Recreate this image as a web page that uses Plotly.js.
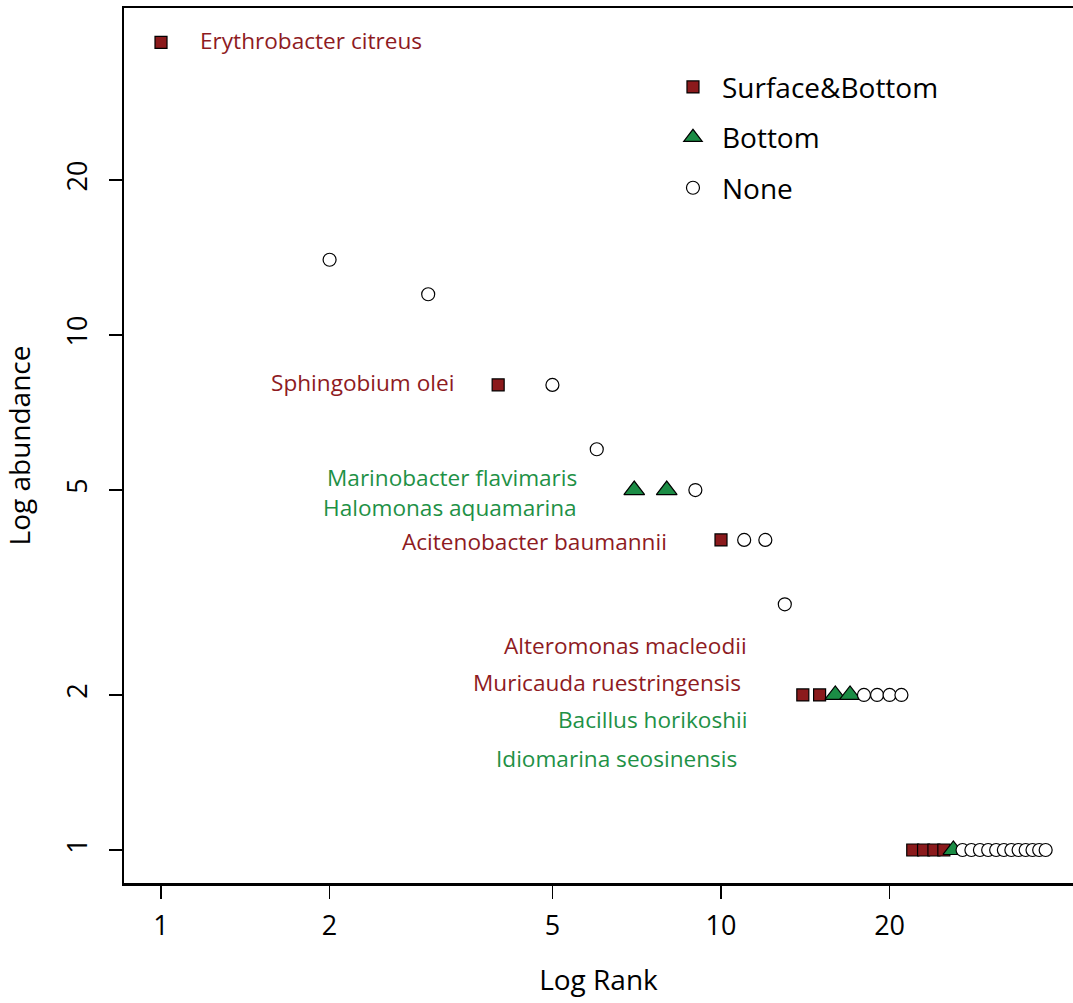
<!DOCTYPE html>
<html>
<head>
<meta charset="utf-8">
<script src="https://cdn.plot.ly/plotly-3.0.1.min.js"></script>
<style>html,body{margin:0;padding:0;background:#fff;}#chart{width:1073px;height:1003px;}</style>
</head>
<body>
<div id="chart"></div>
<script>
// ---- data ----
const ranks = [1,2,3,4,5,6,7,8,9,10,11,12,13,14,15,16,17,18,19,20,21,22,23,24,25,26,27,28,29,30,31,32,33,34,35,36,37,38];
const abundance = [37,14,12,8,8,6,5,5,5,4,4,4,3,2,2,2,2,2,2,2,2,1,1,1,1,1,1,1,1,1,1,1,1,1,1,1,1,1];
const category = ['SB','N','N','SB','N','N','B','B','N','SB','N','N','N','SB','SB','B','B','N','N','N','N',
                  'SB','SB','SB','SB','B','N','N','N','N','N','N','N','N','N','N','N','N'];
const categoryKeys = ['SB','B','N'];
const categoryNames = ['Surface&Bottom','Bottom','None'];
const tickValues = [1,2,5,10,20];
const tickLabels = ['1','2','5','10','20'];
const speciesLabels = ['Erythrobacter citreus','Sphingobium olei','Marinobacter flavimaris','Halomonas aquamarina',
  'Acitenobacter baumannii','Alteromonas macleodii','Muricauda ruestringensis','Bacillus horikoshii','Idiomarina seosinensis'];
const speciesCategory = ['SB','SB','B','B','SB','SB','SB','B','B'];

// ---- styles ----
const RED = '#8B1A1C', GREEN = '#1B8C45';
const markerStyle = {
  SB: {symbol:'square', size:12, color:RED},
  B:  {symbol:'triangle-up', size:18, color:GREEN},
  N:  {symbol:'circle', size:13, color:'#ffffff'}
};
const textColor = {SB:'#8E1B1F', B:'#1E9146'};
// label placement (log10 coords on the axes)
const labelPos = [
  {x:0.066, y:1.571, anchor:'left'},
  {x:0.527, y:0.907, anchor:'right'},
  {x:0.746, y:0.724, anchor:'right'},
  {x:0.746, y:0.666, anchor:'right'},
  {x:0.907, y:0.600, anchor:'right'},
  {x:1.050, y:0.398, anchor:'right'},
  {x:1.039, y:0.326, anchor:'right'},
  {x:1.050, y:0.254, anchor:'right'},
  {x:1.032, y:0.177, anchor:'right'}
];
const FONT = 'Open Sans, Noto Sans, sans-serif';

const traces = categoryKeys.map((k, i) => {
  const xs = [], ys = [];
  ranks.forEach((r, j) => { if (category[j] === k) { xs.push(r); ys.push(abundance[j]); } });
  const st = markerStyle[k];
  return {
    type:'scatter', mode:'markers', x:xs, y:ys, name:categoryNames[i],
    legendgroup:k,
    marker:{symbol:st.symbol, size:st.size, color:st.color, line:{color:'#000', width:1.2}},
    hoverinfo:'x+y'
  };
});

const annotations = speciesLabels.map((t, i) => ({
  text:t, xref:'x', yref:'y', x:labelPos[i].x, y:labelPos[i].y,
  xanchor:labelPos[i].anchor, yanchor:'middle', showarrow:false,
  font:{family:FONT, size:22.6, color:textColor[speciesCategory[i]]}
}));

const layout = {
  width:1073, height:1003,
  margin:{l:124, r:0, t:8, b:120, pad:0},
  paper_bgcolor:'#fff', plot_bgcolor:'#fff',
  font:{family:FONT, color:'#000'},
  showlegend:true,
  legend:{x:0.569, y:0.938, xanchor:'left', yanchor:'top', itemwidth:48,
    font:{family:FONT, size:28, color:'#000'}, tracegroupgap:11, bgcolor:'rgba(0,0,0,0)'},
  xaxis:{type:'log', range:[-0.0661, 1.6286], tickvals:tickValues, ticktext:tickLabels,
    ticks:'outside', ticklen:13, tickwidth:1.5, tickcolor:'#000',
    showline:true, linewidth:2.5, linecolor:'#000', mirror:true,
    showgrid:false, zeroline:false, ticklabelstandoff:4,
    tickfont:{family:FONT, size:27, color:'#000'},
    title:{text:'Log Rank', font:{family:FONT, size:28, color:'#000'}, standoff:29}},
  yaxis:{type:'log', range:[-0.0641, 1.635], tickvals:tickValues, ticktext:tickLabels,
    ticks:'outside', ticklen:13, tickwidth:1.5, tickcolor:'#000', tickangle:-90,
    showline:true, linewidth:2.5, linecolor:'#000', mirror:false,
    showgrid:false, zeroline:false, ticklabelstandoff:11,
    tickfont:{family:FONT, size:27, color:'#000'},
    title:{text:'Log abundance', font:{family:FONT, size:28, color:'#000'}, standoff:34}},
  annotations:annotations
};

Plotly.newPlot('chart', traces, layout, {displayModeBar:false, staticPlot:true});
</script>
</body>
</html>
